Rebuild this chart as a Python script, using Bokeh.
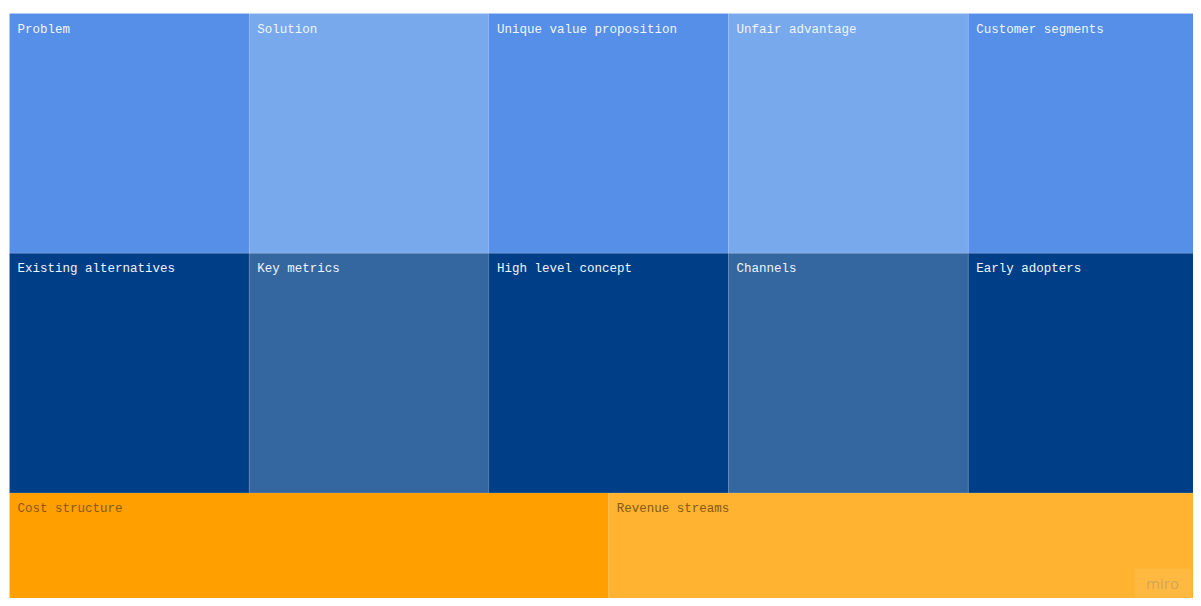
from bokeh.plotting import figure
from bokeh.models import Range1d, ColumnDataSource
from bokeh.core.properties import value
from bokeh.embed import file_html
from bokeh.resources import INLINE

# Lean canvas blocks: label, column start, row, column span, row span, colour
labels = ["Problem", "Solution", "Unique value proposition", "Unfair advantage", "Customer segments",
          "Existing alternatives", "Key metrics", "High level concept", "Channels", "Early adopters",
          "Cost structure", "Revenue streams"]
col0 = [0, 1, 2, 3, 4, 0, 1, 2, 3, 4, 0, 2.5]
row0 = [0, 0, 0, 0, 0, 1, 1, 1, 1, 1, 2, 2]
colspan = [1, 1, 1, 1, 1, 1, 1, 1, 1, 1, 2.5, 2.5]
rowspan = [1, 1, 1, 1, 1, 1, 1, 1, 1, 1, 0.5, 0.5]
colors = ["#558FE8", "#78A9ED", "#558FE8", "#78A9ED", "#558FE8",
          "#003F87", "#34679F", "#003F87", "#34679F", "#003F87",
          "#FFA000", "#FFB330"]
text_colors = ["#F2F5FA"] * 10 + ["#875818", "#875818"]

W, H = 1193, 598
CELL = 239.7   # pixels per grid unit
OX, OY = 9, 13  # canvas offset inside the figure, pixels

left = col0
right = [c + s for c, s in zip(col0, colspan)]
top = row0
bottom = [r + s for r, s in zip(row0, rowspan)]

src = ColumnDataSource(dict(left=left, right=right, top=top, bottom=bottom,
                            color=colors, label=labels, tcolor=text_colors,
                            tx=[l + 8 / CELL for l in left],
                            ty=[t + 9 / CELL for t in top]))

p = figure(width=W, height=H, output_backend="svg", toolbar_location=None,
           x_range=Range1d(-OX / CELL, (W - OX) / CELL),
           y_range=Range1d((H - OY) / CELL, -OY / CELL),
           min_border=0, outline_line_color=None, background_fill_color="white",
           border_fill_color="white")
p.axis.visible = False
p.grid.visible = False

p.quad(left="left", right="right", top="top", bottom="bottom", source=src,
       fill_color="color", line_color="white", line_alpha=0.08, line_width=1)
p.text(x="tx", y="ty", text="label", source=src, text_color="tcolor",
       text_font=value("Liberation Mono"), text_font_size="12.5px",
       text_baseline="top", text_align="left")

# miro watermark
p.quad(left=[(1134 - OX) / CELL], right=[(1191 - OX) / CELL],
       top=[(568 - OY) / CELL], bottom=[(597 - OY) / CELL],
       fill_color="#FFFFFF", fill_alpha=0.08, line_color=None)
p.text(x=[(1162 - OX) / CELL], y=[(582 - OY) / CELL], text=["miro"],
       text_color="#C9A45C", text_alpha=0.9,
       text_font=value("Open Sans"), text_font_size="15px",
       text_align="center", text_baseline="middle")

open("out.html", "w").write(file_html(p, INLINE))
